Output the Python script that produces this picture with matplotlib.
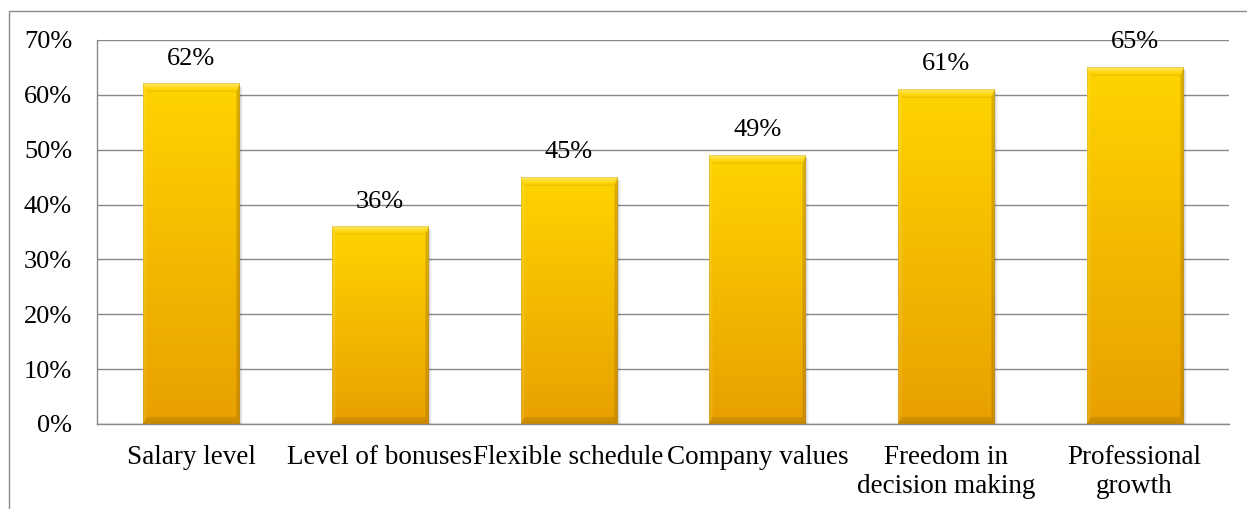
import numpy as np
import matplotlib
matplotlib.use('Agg')
import matplotlib.pyplot as plt
from matplotlib.patches import Rectangle
from matplotlib.transforms import ScaledTranslation

plt.rcParams['font.family'] = ['Liberation Serif', 'DejaVu Serif']

categories = ['Salary level', 'Level of bonuses', 'Flexible schedule', 'Company values',
              'Freedom in\ndecision making', 'Professional\ngrowth']
values = [62, 36, 45, 49, 61, 65]
yticks = [0, 10, 20, 30, 40, 50, 60, 70]

top_col = np.array([255, 212, 0]) / 255.0
bot_col = np.array([232, 160, 0]) / 255.0


def bevel_image(w, h, s=2):
    # bar face: vertical gradient plus bevelled edges (light top, dark bottom/right)
    w, h = int(round(w * s)), int(round(h * s))
    v = np.arange(h)[:, None] * np.ones((1, w))
    u = np.ones((h, 1)) * np.arange(w)[None, :]
    t = v / max(h - 1, 1)
    img = top_col[None, None, :] * (1 - t[..., None]) + bot_col[None, None, :] * t[..., None]
    widths = np.array([9, 7, 3.5, 3.5]) * s
    d = np.stack([v, h - 1 - v, u, w - 1 - u]) / widths[:, None, None]
    edge = np.argmin(d, axis=0)
    dmin = np.min(d, axis=0)
    inb = dmin < 1
    white = np.array([1.0, 1.0, 0.75])
    dark = np.array([0.55, 0.35, 0.0])
    out = img.copy()
    # top facet: pale at the rim, golden towards the face
    m = inb & (edge == 0)
    k = np.clip(0.5 - 0.7 * dmin, -0.15, 0.5)[m, None]
    out[m] = np.where(k > 0, img[m] * (1 - k) + white * k, img[m] * (1 + k) + dark * (-k))
    # bottom facet
    m = inb & (edge == 1)
    k = (0.35 * (1 - 0.4 * dmin))[m, None]
    out[m] = img[m] * (1 - k) + dark * k
    # left facet
    m = inb & (edge == 2)
    out[m] = img[m] * 0.9 + white * 0.1
    # right facet
    m = inb & (edge == 3)
    out[m] = img[m] * 0.7 + dark * 0.3
    # thin outline
    rim = dmin * widths[edge] < 1.0 * s
    out[rim] = out[rim] * 0.75 + np.array([0.6, 0.55, 0.4]) * 0.25
    return np.clip(out, 0, 1)


fig = plt.figure(figsize=(12.47, 5.09), dpi=100)
ax = fig.add_axes([97 / 1247, 1 - 424 / 509, (1229 - 97) / 1247, (424 - 40) / 509])
ax.set_xlim(-0.5, len(categories) - 0.5)
ax.set_ylim(0, 70)

x = np.arange(len(categories))
bars = ax.bar(x, values, width=0.51, color='#F2B800', zorder=3)

for b, val in zip(bars, values):
    x0, x1 = b.get_x(), b.get_x() + b.get_width()
    # soft drop shadow
    for k, a in [(1.0, 0.10), (2.0, 0.08), (3.0, 0.05), (4.0, 0.03)]:
        off = ScaledTranslation(k / 100, -k / 100, fig.dpi_scale_trans)
        sh = Rectangle((x0, 0), x1 - x0, val, color='black', alpha=a, lw=0,
                       transform=ax.transData + off, zorder=2)
        ax.add_patch(sh)
    p0 = ax.transData.transform((x0, 0))
    p1 = ax.transData.transform((x1, val))
    img = bevel_image(p1[0] - p0[0], p1[1] - p0[1])
    ax.imshow(img, extent=(x0, x1, 0, val), aspect='auto', origin='upper',
              interpolation='antialiased', zorder=4)
    ax.annotate(f'{val}%', (b.get_x() + b.get_width() / 2, val), xytext=(0, 18),
                textcoords='offset points', ha='center', va='center', fontsize=19, zorder=5)

ax.set_xlim(-0.5, len(categories) - 0.5)
ax.set_ylim(0, 70)
ax.set_yticks(yticks)
ax.set_yticklabels([f'{t}%' for t in yticks])
ax.set_xticks(x)
ax.set_xticklabels(categories, linespacing=1.2)
ax.tick_params(axis='y', length=0, pad=18, labelsize=19)
ax.tick_params(axis='x', length=0, pad=15, labelsize=19.5)
ax.yaxis.grid(True, color='#898989', lw=1.0)
ax.set_axisbelow(True)
for s in ['top', 'right']:
    ax.spines[s].set_visible(False)
for s in ['left', 'bottom']:
    ax.spines[s].set_color('#898989')
    ax.spines[s].set_linewidth(1.0)

# chart frame
fig.add_artist(Rectangle((8.5 / 1247, -0.2), 1.2, 1.2 - 10.5 / 509, transform=fig.transFigure,
                         fill=False, ec='#8c8c8c', lw=1.0, clip_on=False))

fig.savefig('out.png', dpi=100)
